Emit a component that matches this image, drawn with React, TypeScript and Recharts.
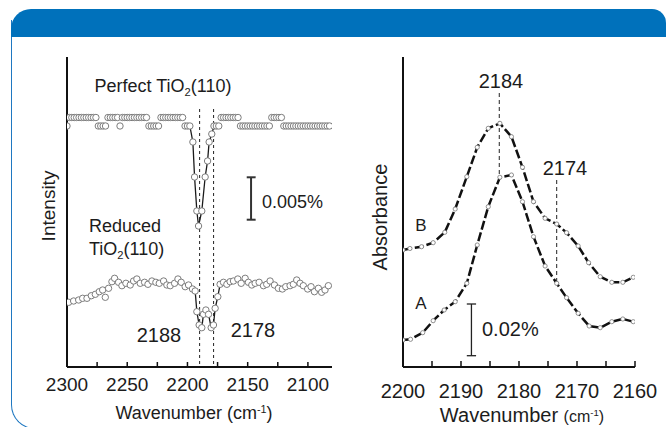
import React from "react";
import {
  ComposedChart,
  XAxis,
  YAxis,
  Scatter,
  Line,
  ReferenceLine,
} from "recharts";

const FONT = '"Liberation Sans", Arial, Helvetica, sans-serif';

// ---- left panel: SFG / IRRAS intensity (arbitrary units) ----
const leftTicks = [2300, 2275, 2250, 2225, 2200, 2175, 2150, 2125, 2100];
const leftTickLabels = [2300, 2250, 2200, 2150, 2100];

// perfect TiO2(110): flat baseline toggling between two levels, one sharp dip
const perfect: [number, number][] = [
  [2300, 241], [2298, 249.5], [2296, 249.5], [2294, 249.5], [2292, 249.5], [2290, 249.5],
  [2288, 249.5], [2286, 249.5], [2284, 249.5], [2282, 249.5], [2280, 249.5], [2278, 249.5],
  [2276, 249.5], [2274, 241], [2272, 241], [2270, 241], [2268, 241], [2266, 249.5],
  [2264, 249.5], [2262, 249.5], [2260, 249.5], [2258, 249.5], [2256, 241], [2254, 249.5],
  [2252, 249.5], [2250, 249.5], [2248, 249.5], [2246, 249.5], [2244, 249.5], [2242, 249.5],
  [2240, 249.5], [2238, 249.5], [2236, 249.5], [2234, 249.5], [2232, 241], [2230, 241],
  [2228, 241], [2226, 241], [2224, 241], [2222, 249.5], [2220, 249.5], [2218, 249.5],
  [2216, 249.5], [2214, 249.5], [2212, 249.5], [2210, 249.5], [2208, 249.5], [2206, 249.5],
  [2204, 249.5], [2202, 241], [2200, 241], [2198, 241],
  [2195.5, 225], [2194.1, 190], [2192.2, 156], [2190.8, 141], [2188.1, 156],
  [2185.3, 190], [2183.3, 206], [2182, 225], [2179.8, 233],
  [2178, 241], [2176, 241], [2174, 241], [2172, 249.5], [2170, 249.5], [2168, 249.5],
  [2166, 249.5], [2164, 249.5], [2162, 249.5], [2160, 249.5], [2158, 249.5], [2156, 241],
  [2154, 241], [2152, 241], [2150, 241], [2148, 241], [2146, 241], [2144, 241],
  [2142, 241], [2140, 241], [2138, 241], [2136, 241], [2134, 241], [2132, 241],
  [2130, 249.5], [2128, 249.5], [2126, 249.5], [2124, 249.5], [2122, 249.5], [2120, 241],
  [2118, 241], [2116, 241], [2114, 241], [2112, 241], [2110, 241], [2108, 241],
  [2106, 241], [2104, 241], [2102, 241], [2100, 241], [2098, 241], [2096, 241],
  [2094, 241], [2092, 241], [2090, 241], [2088, 241], [2086, 241], [2084, 241], [2082, 241],
];

// reduced TiO2(110): noisy, slightly rising baseline with a double dip
const reduced: [number, number][] = [
  [2298.6, 64.7], [2294.5, 66], [2290.3, 67], [2287, 68.7], [2283.4, 68.7], [2279.8, 71.3],
  [2276.5, 72.7], [2273.2, 75.3], [2270.4, 77], [2268.2, 69.7], [2265.5, 78.7], [2262.7, 85.3],
  [2260.5, 88.7], [2257.2, 84.7], [2254.4, 81.3], [2251.1, 83.7], [2247.5, 82], [2244.7, 86],
  [2242, 88], [2239.2, 83.7], [2235.6, 84.7], [2232.8, 82.7], [2229.5, 86], [2226.2, 84.7],
  [2223.4, 83.7], [2219.8, 86], [2217.1, 82], [2214.3, 81.3], [2210.7, 83.7], [2207.9, 88],
  [2205.2, 84.7], [2201.9, 80.3], [2199.1, 82], [2195.8, 78], [2193.6, 76],
  [2192.2, 55.3], [2190.3, 42], [2188.1, 39.3], [2186.7, 52.7], [2184.7, 57], [2182.5, 52.7],
  [2180.3, 39.3], [2178.4, 42], [2177, 58.7], [2174.8, 70.3],
  [2172.9, 82.7], [2170.1, 84.7], [2167.3, 82.7], [2164.6, 85.3], [2161.8, 86], [2158.2, 88],
  [2155.4, 83.7], [2152.1, 88.7], [2149.4, 84.7], [2146.6, 82], [2143.8, 83.7], [2140.5, 84.7],
  [2136.9, 81.3], [2134.2, 82.7], [2131.4, 86], [2127.8, 82], [2124.5, 78.7], [2121.2, 78],
  [2118.4, 80.3], [2114.8, 81.3], [2112.1, 82.7], [2109.3, 87], [2106.5, 83.7], [2103.8, 81.3],
  [2100.2, 78], [2097.4, 80.3], [2094.6, 75.3], [2091.3, 78.7], [2088.6, 74.7], [2085.8, 77],
  [2083, 81.3],
];

const leftGuides = [2189.9, 2178.3]; // drawn guides, labelled 2188 / 2178 in the figure

// ---- right panel: absorbance (arbitrary units) ----
const rightTicks = [2200, 2195, 2190, 2185, 2180, 2175, 2170, 2165, 2160];
const rightTickLabels = [2200, 2190, 2180, 2170, 2160];

const curveB: [number, number][] = [
  [2200, 117], [2198.8, 118.5], [2196.8, 120.3], [2194.8, 124.3], [2192.8, 134.7], [2191, 158],
  [2189, 190.3], [2187.2, 219.7], [2185.3, 238.7], [2183.3, 243.7], [2181.3, 230.3],
  [2179.4, 199.7], [2177.5, 165.3], [2175.5, 148.7], [2173.5, 143], [2171.8, 134.3],
  [2169.8, 121], [2168, 104.3], [2166, 90.3], [2164, 84.7], [2162.1, 84.7], [2160.3, 89.7],
];

const curveA: [number, number][] = [
  [2200, 27], [2198.7, 27.7], [2196.6, 34.3], [2194.8, 46.3], [2192.9, 57], [2191, 65.3],
  [2189, 83.7], [2187.2, 122], [2185.3, 160.3], [2183.3, 189.7], [2181.3, 192],
  [2179.4, 165.3], [2177.5, 130.3], [2175.5, 101], [2173.5, 83.7], [2171.8, 69.3],
  [2169.8, 53.7], [2167.9, 41], [2166, 39.3], [2164, 45.3], [2162.1, 48], [2160.3, 45.3],
];

const toRows = (pts: [number, number][]) => pts.map(([w, v]) => ({ w, v }));

const perfectRows = toRows(perfect);
const reducedRows = toRows(reduced);
const perfectDip = perfectRows.filter((d) => d.w <= 2198 && d.w >= 2178);
const reducedDip = reducedRows.filter((d) => d.w <= 2194 && d.w >= 2172);

function Ring(props: any) {
  const { cx, cy } = props;
  if (cx == null || cy == null) return null;
  return <circle cx={cx} cy={cy} r={3.2} fill="#fff" stroke="#6e6e6e" strokeWidth={0.9} />;
}

function SmallDot(props: any) {
  const { cx, cy, index } = props;
  if (cx == null || cy == null) return <g key={index} />;
  return <circle key={index} cx={cx} cy={cy} r={2.1} fill="#fff" stroke="#777" strokeWidth={0.8} />;
}

function Note({ x, y, size, anchor = "middle", rotate, children }: any) {
  const tx = anchor === "middle" ? "-50%" : anchor === "end" ? "-100%" : "0";
  return (
    <div
      style={{
        position: "absolute",
        left: x,
        top: y,
        fontSize: size,
        lineHeight: 1,
        whiteSpace: "nowrap",
        color: "#1c1c1c",
        transform: `translate(${tx}, -50%)${rotate ? ` rotate(${rotate}deg)` : ""}`,
      }}
    >
      {children}
    </div>
  );
}

const sub = { fontSize: "0.62em", position: "relative" as const, top: "0.32em" };
const sup = { fontSize: "0.6em", position: "relative" as const, top: "-0.6em" };

const tickStyle = (size: number) => ({ fill: "#1c1c1c", fontSize: size, fontFamily: FONT });

export default function App() {
  return (
    <div
      style={{
        position: "absolute",
        left: 0,
        top: 0,
        width: 667,
        height: 427,
        overflow: "hidden",
        background: "#fff",
        fontFamily: FONT,
      }}
    >
      {/* panel frame */}
      <div
        style={{
          position: "absolute",
          left: 11,
          top: 20,
          width: 700,
          height: 408,
          borderLeft: "1.2px solid #1f78c1",
          borderBottom: "1.2px solid #1f78c1",
          borderBottomLeftRadius: 24,
        }}
      />
      <div
        style={{
          position: "absolute",
          left: 11,
          top: 9,
          width: 655,
          height: 28,
          background: "#0071bb",
          borderRadius: "20px 14px 0 0",
        }}
      />

      {/* left chart */}
      <div style={{ position: "absolute", left: 0, top: 0 }}>
        <ComposedChart width={340} height={427} margin={{ top: 57, right: 8, bottom: 30, left: 66 }}>
          <XAxis
            type="number"
            dataKey="w"
            domain={[2080, 2300]}
            reversed
            allowDataOverflow
            ticks={leftTicks}
            interval={0}
            tickFormatter={(t: number) => (leftTickLabels.includes(t) ? String(t) : "")}
            height={30}
            tickSize={-5}
            tickMargin={16}
            tick={tickStyle(19)}
            axisLine={{ stroke: "#111", strokeWidth: 2 }}
            tickLine={{ stroke: "#111", strokeWidth: 1.5 }}
          />
          <YAxis
            type="number"
            dataKey="v"
            domain={[0, 310]}
            width={1}
            tick={false}
            tickLine={false}
            axisLine={{ stroke: "#111", strokeWidth: 2 }}
          />
          {leftGuides.map((x) => (
            <ReferenceLine
              key={x}
              segment={[{ x, y: 258 }, { x, y: 0 }]}
              stroke="#222"
              strokeWidth={1}
              strokeDasharray="3 3"
            />
          ))}
          {/* 0.005% scale bar */}
          <ReferenceLine segment={[{ x: 2147.2, y: 189.7 }, { x: 2147.2, y: 147.3 }]} stroke="#333" strokeWidth={2} />
          <ReferenceLine segment={[{ x: 2150.8, y: 189.7 }, { x: 2143.4, y: 189.7 }]} stroke="#333" strokeWidth={2} />
          <ReferenceLine segment={[{ x: 2150.8, y: 147.3 }, { x: 2143.4, y: 147.3 }]} stroke="#333" strokeWidth={2} />
          <Line data={perfectDip} dataKey="v" stroke="#1a1a1a" strokeWidth={1.3} dot={false} isAnimationActive={false} />
          <Line data={reducedDip} dataKey="v" stroke="#1a1a1a" strokeWidth={1.3} dot={false} isAnimationActive={false} />
          <Scatter data={perfectRows} dataKey="v" shape={Ring} isAnimationActive={false} />
          <Scatter data={reducedRows} dataKey="v" shape={Ring} isAnimationActive={false} />
        </ComposedChart>
      </div>

      {/* right chart */}
      <div style={{ position: "absolute", left: 340, top: 0 }}>
        <ComposedChart width={327} height={427} margin={{ top: 57, right: 32, bottom: 30, left: 62 }}>
          <XAxis
            type="number"
            dataKey="w"
            domain={[2160, 2200]}
            reversed
            allowDataOverflow
            ticks={rightTicks}
            interval={0}
            tickFormatter={(t: number) => (rightTickLabels.includes(t) ? String(t) : "")}
            height={30}
            tickSize={-6}
            tickMargin={23}
            tick={tickStyle(20)}
            axisLine={{ stroke: "#111", strokeWidth: 2 }}
            tickLine={{ stroke: "#111", strokeWidth: 1.5 }}
          />
          <YAxis
            type="number"
            dataKey="v"
            domain={[0, 310]}
            width={1}
            tick={false}
            tickLine={false}
            axisLine={{ stroke: "#111", strokeWidth: 2 }}
          />
          <ReferenceLine segment={[{ x: 2183.4, y: 274 }, { x: 2183.4, y: 187 }]} stroke="#222" strokeWidth={1} strokeDasharray="4 3" />
          <ReferenceLine segment={[{ x: 2173.5, y: 187 }, { x: 2173.5, y: 84 }]} stroke="#222" strokeWidth={1} strokeDasharray="4 3" />
          {/* 0.02% scale bar */}
          <ReferenceLine segment={[{ x: 2188.2, y: 63 }, { x: 2188.2, y: 11.3 }]} stroke="#222" strokeWidth={1.3} />
          <ReferenceLine segment={[{ x: 2189, y: 63 }, { x: 2187.4, y: 63 }]} stroke="#222" strokeWidth={1.3} />
          <ReferenceLine segment={[{ x: 2189, y: 11.3 }, { x: 2187.4, y: 11.3 }]} stroke="#222" strokeWidth={1.3} />
          <Line
            data={toRows(curveB)}
            dataKey="v"
            stroke="#111"
            strokeWidth={2.5}
            strokeDasharray="9 3"
            dot={SmallDot}
            isAnimationActive={false}
          />
          <Line
            data={toRows(curveA)}
            dataKey="v"
            stroke="#111"
            strokeWidth={2.5}
            strokeDasharray="9 3"
            dot={SmallDot}
            isAnimationActive={false}
          />
        </ComposedChart>
      </div>

      {/* left annotations */}
      <Note x={163} y={86} size={18}>
        Perfect TiO<span style={sub}>2</span>(110)
      </Note>
      <Note x={89} y={226} size={18} anchor="start">Reduced</Note>
      <Note x={89} y={249} size={18} anchor="start">
        TiO<span style={sub}>2</span>(110)
      </Note>
      <Note x={262} y={202} size={18} anchor="start">0.005%</Note>
      <Note x={159} y={335} size={20}>2188</Note>
      <Note x={253} y={330} size={20}>2178</Note>
      <Note x={48} y={206} size={19} rotate={-90}>Intensity</Note>
      <Note x={194} y={413} size={18}>
        Wavenumber (cm<span style={sup}>-1</span>)
      </Note>

      {/* right annotations */}
      <Note x={501} y={81} size={20}>2184</Note>
      <Note x={565} y={168} size={20}>2174</Note>
      <Note x={421} y={225} size={17}>B</Note>
      <Note x={421} y={303} size={17}>A</Note>
      <Note x={482} y={329} size={20} anchor="start">0.02%</Note>
      <Note x={380} y={217} size={20} rotate={-90}>Absorbance</Note>
      <Note x={522} y={415} size={20}>
        Wavenumber <span style={{ fontSize: 16 }}>(cm<span style={sup}>-1</span>)</span>
      </Note>
    </div>
  );
}
